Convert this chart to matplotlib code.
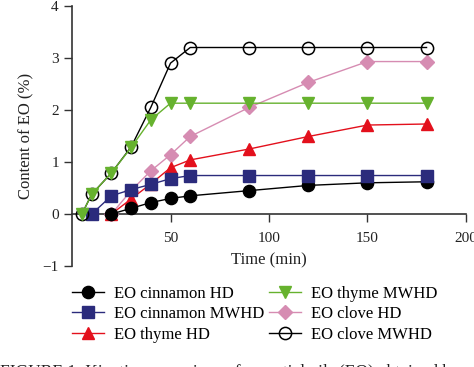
import matplotlib.pyplot as plt

# sampling times (min)
t_cin_hd = [20, 30, 40, 50, 60, 90, 120, 150, 180]
cin_hd = [0.0, 0.11, 0.22, 0.30, 0.35, 0.45, 0.55, 0.60, 0.62]

t_cin_mw = [10, 20, 30, 40, 50, 60, 90, 120, 150, 180]
cin_mw = [0.0, 0.35, 0.47, 0.57, 0.68, 0.74, 0.74, 0.74, 0.74, 0.74]

t_thy_hd = [20, 30, 40, 50, 60, 90, 120, 150, 180]
thy_hd = [0.0, 0.29, 0.58, 0.89, 1.04, 1.25, 1.49, 1.71, 1.73]

t_thy_mw = [5, 10, 20, 30, 40, 50, 60, 90, 120, 150, 180]
thy_mw = [0.0, 0.38, 0.79, 1.28, 1.81, 2.13, 2.13, 2.13, 2.13, 2.13, 2.13]

t_clo_hd = [20, 30, 40, 50, 60, 90, 120, 150, 180]
clo_hd = [0.0, 0.45, 0.83, 1.14, 1.49, 2.05, 2.53, 2.93, 2.93]

t_clo_mw = [5, 10, 20, 30, 40, 50, 60, 90, 120, 150, 180]
clo_mw = [0.0, 0.38, 0.79, 1.29, 2.05, 2.90, 3.20, 3.20, 3.20, 3.20, 3.20]

plt.rcParams['font.family'] = ['Liberation Serif', 'DejaVu Serif']

fig = plt.figure(figsize=(4.74, 3.67), dpi=100)
ax = fig.add_axes([0.152, 0.275, 0.831, 0.709])

ms = 8.8
ax.plot(t_cin_hd, cin_hd, marker='o', color='black', ms=ms, lw=1, label='EO cinnamon HD', zorder=3)
ax.plot(t_cin_mw, cin_mw, marker='s', color='#2b2b7c', ms=ms - 0.5, lw=1, label='EO cinnamon MWHD', zorder=3)
ax.plot(t_thy_hd, thy_hd, marker='^', color='#e3101c', ms=ms, lw=1, label='EO thyme HD', zorder=2.8)
ax.plot(t_thy_mw, thy_mw, marker='v', color='#66b22e', ms=ms, lw=1, label='EO thyme MWHD', zorder=3.5)
ax.plot(t_clo_hd, clo_hd, marker='D', color='#d68cb2', ms=7, lw=1, label='EO clove HD', zorder=2.7)
ax.plot(t_clo_mw, clo_mw, marker='o', color='black', mfc='none', mew=1.1, ms=ms, lw=1,
        label='EO clove MWHD', zorder=3.4)

ax.set_xlim(0, 200)
ax.set_ylim(-1, 4)
ax.set_xticks([50, 100, 150, 200])
ax.set_yticks([-1, 0, 1, 2, 3, 4])
ax.set_yticklabels(['\u22121', '0', '1', '2', '3', '4'])

ax.spines['top'].set_visible(False)
ax.spines['right'].set_visible(False)
ax.spines['bottom'].set_position(('data', 0))
for s in ['left', 'bottom']:
    ax.spines[s].set_color('#333333')
    ax.spines[s].set_linewidth(1.2)
ax.tick_params(direction='out', length=6, width=1, colors='#333333', labelsize=11,
               labelcolor='#222222')
ax.tick_params(axis='x', pad=7)

ax.set_xlabel('Time (min)', fontsize=12, color='#222222', labelpad=0)
ax.xaxis.set_label_coords(0.5, 0.023)
ax.xaxis.label.set_va('center')
ax.set_ylabel('Content of EO (%)', fontsize=12, color='#222222', labelpad=6)

fig.legend(loc='upper left', bbox_to_anchor=(0.138, 0.24), ncol=2, frameon=False,
           fontsize=12, handlelength=1.9, handletextpad=0.6, columnspacing=0.3,
           labelspacing=0.28, borderaxespad=0)

# figure caption, cut off at the bottom edge as in the source image
fig.text(0.0, -0.025, 'FIGURE 1: Kinetic comparison of essential oils (EO) obtained by',
         fontsize=12.5, color='#222222', va='baseline')

fig.savefig('out.png', dpi=100)
